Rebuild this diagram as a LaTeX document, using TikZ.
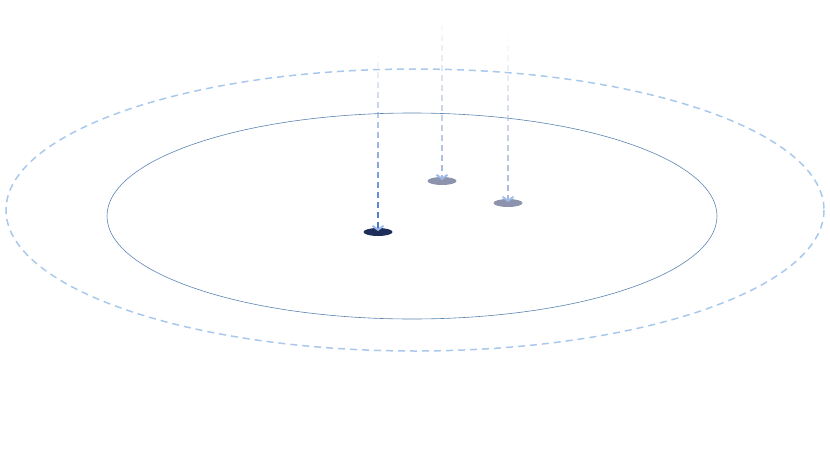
\documentclass[tikz,border=0pt]{standalone}
\usetikzlibrary{shapes.geometric,arrows.meta,fadings}
\definecolor{ringblue}{HTML}{A9C9EC}
\definecolor{orbitblue}{HTML}{5B84B1}
\definecolor{navydot}{HTML}{1F2D5A}
\definecolor{greydot}{HTML}{8E93AD}
\definecolor{dropblue}{HTML}{3F6FCC}
\definecolor{dropgrey}{HTML}{A3B4D6}
\definecolor{tipblue}{HTML}{9DBBEB}
\tikzfading[name=dripfade, top color=transparent!100, middle color=transparent!0, bottom color=transparent!0]
\begin{document}
\begin{tikzpicture}[x=1pt, y=-1pt,
		dot/.style={ellipse, minimum width=29pt, minimum height=8pt, inner sep=0pt},
		drop/.style={line width=2pt, dash pattern=on 6pt off 4pt, path fading=dripfade, shorten >=1pt, -{Straight Barb[length=4pt, width=11pt, color=tipblue]}}]
		\useasboundingbox (0,0) rectangle (830,450);
		% rings
		\draw[ringblue, line width=1.5pt, dash pattern=on 7pt off 5pt] (415,210) ellipse [x radius=409, y radius=141];
		\draw[orbitblue, line width=0.6pt] (412,216) ellipse [x radius=305, y radius=103];
		% landing spots
		\node[dot, fill=navydot] (dotA) at (378,232) {};
		\node[dot, fill=greydot] (dotB) at (442,181) {};
		\node[dot, fill=greydot] (dotC) at (508,203) {};
		\coordinate (topA) at (378,52);
		\coordinate (topB) at (442,15);
		\coordinate (topC) at (508,35);
		% drops (the side moves give the fading some width)
		\draw[drop, dropblue] ([xshift=-7pt]topA) ([xshift=7pt]topA) (topA) -- (dotA.center);
		\draw[drop, dropgrey] ([xshift=-7pt]topB) ([xshift=7pt]topB) (topB) -- (dotB.center);
		\draw[drop, dropgrey] ([xshift=-7pt]topC) ([xshift=7pt]topC) (topC) -- (dotC.center);
	\end{tikzpicture}
\end{document}
